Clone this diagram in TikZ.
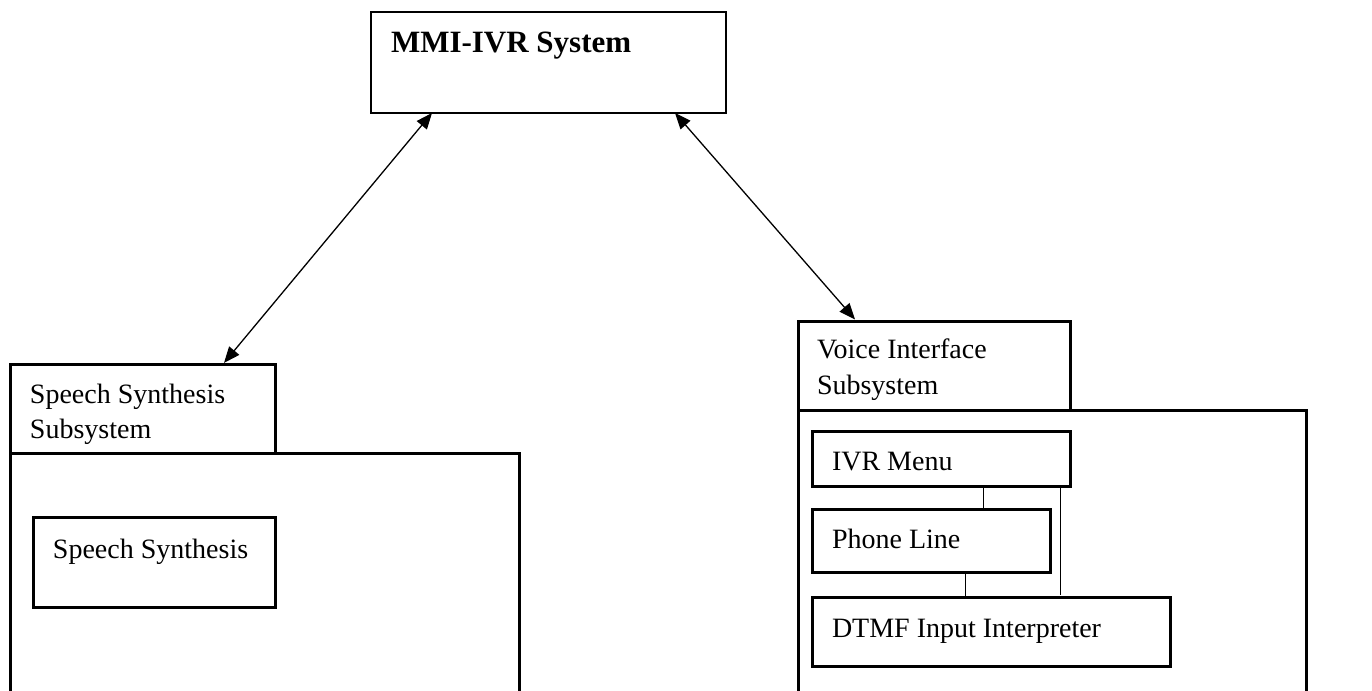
\documentclass[tikz,border=0pt]{standalone}
\usepackage{fontspec}
\setmainfont{Liberation Serif}
\usetikzlibrary{arrows.meta}
\begin{document}
\begin{tikzpicture}[x=0.5pt,y=-0.5pt,
  thickbox/.style={draw=black,line width=1.5pt,rectangle,inner sep=0pt,outer sep=0pt},
  thinbox/.style={draw=black,line width=0.8pt,rectangle,inner sep=0pt,outer sep=0pt},
  lbl/.style={anchor=base west,inner sep=0pt,outer sep=0pt,font=\fontsize{14}{17.5}\selectfont},
  arr/.style={line width=0.65pt,{Triangle[length=8pt,width=6.5pt]}-{Triangle[length=8pt,width=6.5pt]}},
  link/.style={line width=0.5pt}]
\useasboundingbox (0,0) rectangle (1372,691);
\clip (0,0) rectangle (1372,691);
\fill[white] (0,0) rectangle (1372,691);
% top system
\node[thinbox,minimum width=177.5pt,minimum height=50.5pt] (mmi) at (548.5,62.5) {};
\node[lbl,font=\fontsize{15.5}{18}\selectfont\bfseries] (mmit) at (391,52) {MMI-IVR System};
% speech synthesis subsystem
\node[thickbox,minimum width=132.5pt,minimum height=44.5pt] (sstab) at (142.5,409) {};
\node[thickbox,minimum width=254.5pt,minimum height=133.25pt] (ssmain) at (264.5,586.75) {};
\node[thickbox,minimum width=121pt,minimum height=45pt] (ssin) at (154.5,562.5) {};
\node[lbl] (sst1) at (30,403) {Speech Synthesis};
\node[lbl] (sst2) at (30,438) {Subsystem};
\node[lbl] (ssint) at (53,558) {Speech Synthesis};
% voice interface subsystem
\node[thickbox,minimum width=136pt,minimum height=44.75pt] (vtab) at (934,365.75) {};
\node[thickbox,minimum width=254.25pt,minimum height=154.75pt] (vmain) at (1052.25,565.25) {};
\node[thickbox,minimum width=128.75pt,minimum height=27.5pt] (ivr) at (941.25,458.5) {};
\node[thickbox,minimum width=118.75pt,minimum height=31.75pt] (phone) at (931.25,540.75) {};
\node[thickbox,minimum width=178.75pt,minimum height=34.5pt] (dtmf) at (991.25,632) {};
\node[lbl] (vt1) at (817,358) {Voice Interface};
\node[lbl] (vt2) at (817,394) {Subsystem};
\node[lbl] (ivrt) at (832,470) {IVR Menu};
\node[lbl] (phonet) at (832,548) {Phone Line};
\node[lbl] (dtmft) at (832,637) {DTMF Input Interpreter};
% connector positions
\coordinate (xa) at (983,0);
\coordinate (xb) at (965,0);
\coordinate (xc) at (1060,0);
\coordinate (xd) at (432,0);
\coordinate (xe) at (224,0);
\coordinate (xf) at (675,0);
\coordinate (xg) at (855,0);
% inner links
\draw[link] (ivr.south -| xa) -- (phone.north -| xa);
\draw[link] (phone.south -| xb) -- (dtmf.north -| xb);
\draw[link] (ivr.south -| xc) -- ([yshift=1.5pt]dtmf.north -| xc);
% arrows
\draw[arr] (mmi.south -| xd) -- ([yshift=0.8pt]sstab.north -| xe);
\draw[arr] (mmi.south -| xf) -- ([yshift=0.8pt]vtab.north -| xg);
\end{tikzpicture}
\end{document}
